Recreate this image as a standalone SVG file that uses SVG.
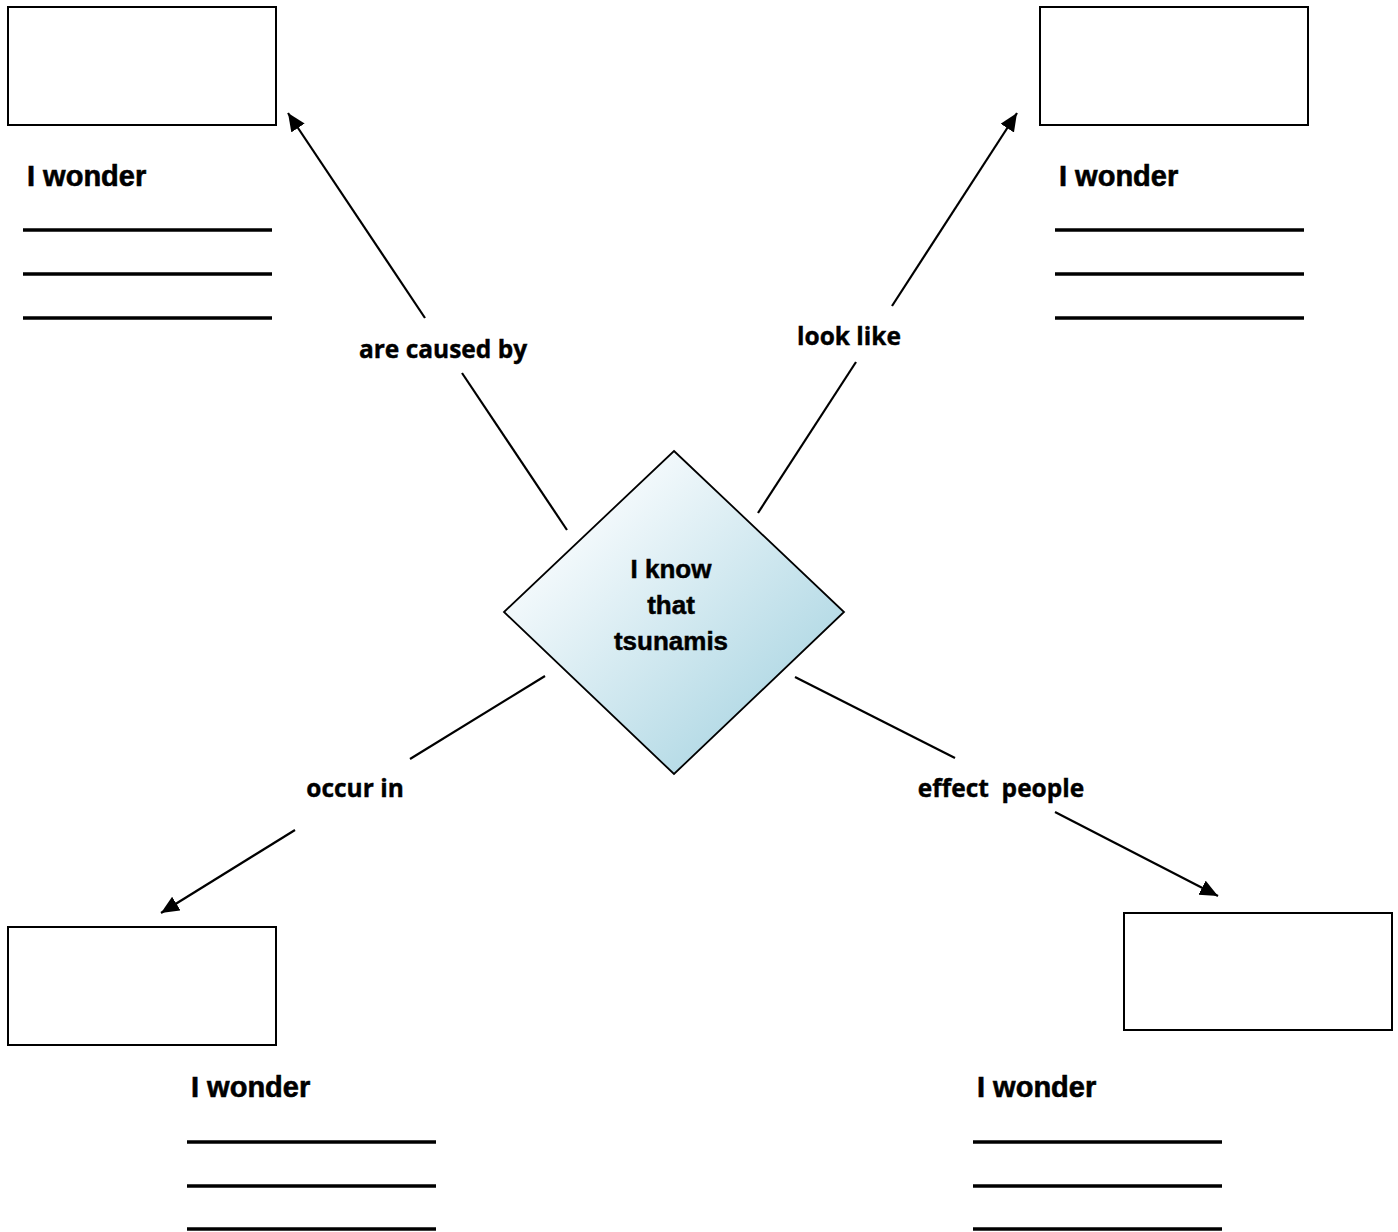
<svg xmlns="http://www.w3.org/2000/svg" width="1398" height="1232" viewBox="0 0 1398 1232">
  <defs>
    <linearGradient id="dg" x1="0.2" y1="0.2" x2="0.75" y2="0.75">
      <stop offset="0" stop-color="#f7fbfd"/>
      <stop offset="1" stop-color="#b8dce7"/>
    </linearGradient>
    <marker id="ah" markerUnits="userSpaceOnUse" markerWidth="20" markerHeight="18" refX="18" refY="8" orient="auto">
      <path d="M0,0 L18,8 L0,16 Z" fill="#000"/>
    </marker>
  </defs>
  <style>
    .box { fill: #fff; stroke: #000; stroke-width: 2; }
    .rule { stroke: #000; stroke-width: 3.5; }
    .wonder { font-family: "Liberation Sans", Arial, sans-serif; font-weight: bold; font-size: 29px; fill: #000; stroke: #000; stroke-width: 0.6; }
    .center { font-family: "Liberation Sans", Arial, sans-serif; font-weight: bold; font-size: 26px; fill: #000; stroke: #000; stroke-width: 0.5; text-anchor: middle; }
    .lbl { font-family: "Open Sans", "Liberation Sans", sans-serif; font-weight: bold; font-size: 24.5px; fill: #000; stroke: #000; stroke-width: 0.4; text-anchor: middle; }
    .conn { stroke: #000; stroke-width: 2.2; fill: none; }
  </style>
  <rect width="1398" height="1232" fill="#fff"/>

  <g id="connectors">
    <line class="conn" x1="567" y1="530" x2="462" y2="373"/>
    <line class="conn" x1="425" y1="318" x2="288" y2="113" marker-end="url(#ah)"/>
    <text class="lbl" x="443" y="358">are caused by</text>

    <line class="conn" x1="758" y1="513" x2="856" y2="362"/>
    <line class="conn" x1="892" y1="306" x2="1017" y2="113" marker-end="url(#ah)"/>
    <text class="lbl" x="849" y="345">look like</text>

    <line class="conn" x1="545" y1="676" x2="410" y2="759"/>
    <line class="conn" x1="295" y1="830" x2="161" y2="913" marker-end="url(#ah)"/>
    <text class="lbl" x="355" y="797">occur in</text>

    <line class="conn" x1="795" y1="677" x2="955" y2="758"/>
    <line class="conn" x1="1055" y1="812" x2="1218" y2="896" marker-end="url(#ah)"/>
    <text class="lbl" x="1001" y="797" xml:space="preserve">effect  people</text>
  </g>

  <g id="center-node">
    <polygon points="674,451 844,612 674,774 504,612" fill="url(#dg)" stroke="#000" stroke-width="1.8"/>
    <text class="center" x="671" y="578">I know</text>
    <text class="center" x="671" y="614">that</text>
    <text class="center" x="671" y="650">tsunamis</text>
  </g>

  <g id="node-top-left">
    <rect class="box" x="8" y="7" width="268" height="118"/>
    <text class="wonder" x="27" y="186">I wonder</text>
    <line class="rule" x1="23" y1="230" x2="272" y2="230"/>
    <line class="rule" x1="23" y1="274" x2="272" y2="274"/>
    <line class="rule" x1="23" y1="318" x2="272" y2="318"/>
  </g>

  <g id="node-top-right">
    <rect class="box" x="1040" y="7" width="268" height="118"/>
    <text class="wonder" x="1059" y="186">I wonder</text>
    <line class="rule" x1="1055" y1="230" x2="1304" y2="230"/>
    <line class="rule" x1="1055" y1="274" x2="1304" y2="274"/>
    <line class="rule" x1="1055" y1="318" x2="1304" y2="318"/>
  </g>

  <g id="node-bottom-left">
    <rect class="box" x="8" y="927" width="268" height="118"/>
    <text class="wonder" x="191" y="1097">I wonder</text>
    <line class="rule" x1="187" y1="1142" x2="436" y2="1142"/>
    <line class="rule" x1="187" y1="1186" x2="436" y2="1186"/>
    <line class="rule" x1="187" y1="1229" x2="436" y2="1229"/>
  </g>

  <g id="node-bottom-right">
    <rect class="box" x="1124" y="913" width="268" height="117"/>
    <text class="wonder" x="977" y="1097">I wonder</text>
    <line class="rule" x1="973" y1="1142" x2="1222" y2="1142"/>
    <line class="rule" x1="973" y1="1186" x2="1222" y2="1186"/>
    <line class="rule" x1="973" y1="1229" x2="1222" y2="1229"/>
  </g>
</svg>
